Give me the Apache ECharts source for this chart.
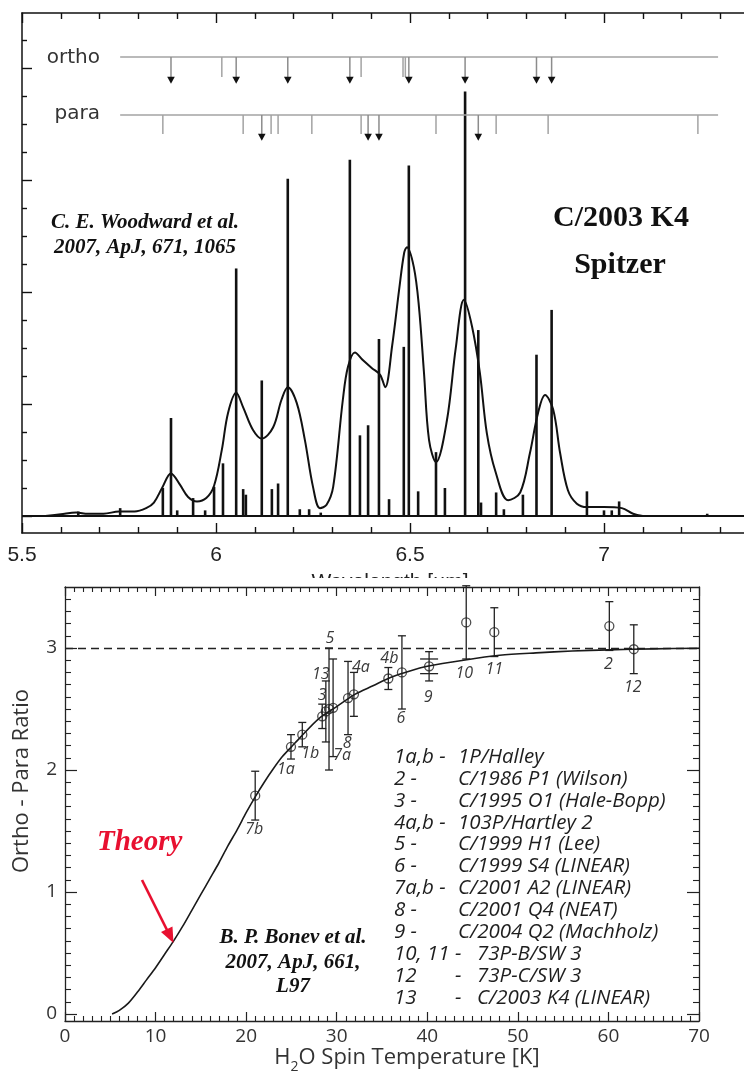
<!DOCTYPE html>
<html><head><meta charset="utf-8">
<script src="https://cdn.jsdelivr.net/npm/echarts@6/dist/echarts.min.js"></script>
<style>html,body{margin:0;padding:0;background:#fff}#c{width:744px;height:1079px}</style>
</head><body><div id="c"></div>
<script>
// ================= TOP PANEL: Spitzer spectrum of C/2003 K4 =================
const spikeWavelengths = [5.645, 5.753, 5.863, 5.884, 5.900, 5.941, 5.972, 5.995, 6.018, 6.052,
  6.070, 6.077, 6.118, 6.144, 6.160, 6.185, 6.216, 6.240, 6.270, 6.345,
  6.371, 6.392, 6.420, 6.446, 6.484, 6.497, 6.521, 6.567, 6.590, 6.642,
  6.676, 6.683, 6.722, 6.742, 6.791, 6.826, 6.865, 6.956, 7.000, 7.020, 7.039, 7.266];
const spikeHeights = [0.04, 0.07, 0.25, 0.875, 0.05, 0.16, 0.05, 0.26, 0.47, 2.21,
  0.24, 0.19, 1.21, 0.24, 0.29, 3.01, 0.06, 0.06, 0.03, 3.18,
  0.72, 0.81, 1.58, 0.15, 1.51, 3.13, 0.22, 0.57, 0.25, 3.79,
  1.66, 0.12, 0.21, 0.06, 0.19, 1.44, 1.84, 0.22, 0.05, 0.05, 0.13, 0.02];

const convolvedWl = [5.56, 5.60, 5.64, 5.67, 5.71, 5.75, 5.79, 5.82, 5.84, 5.861,
  5.884, 5.907, 5.928, 5.951, 5.975, 5.995, 6.015, 6.031, 6.052, 6.070,
  6.095, 6.118, 6.147, 6.169, 6.185, 6.208, 6.229, 6.250, 6.268, 6.285,
  6.302, 6.327, 6.340, 6.358, 6.379, 6.402, 6.423, 6.436, 6.454, 6.472,
  6.485, 6.492, 6.510, 6.523, 6.536, 6.549, 6.567, 6.595, 6.618, 6.639,
  6.660, 6.680, 6.698, 6.720, 6.753, 6.784, 6.809, 6.830, 6.848, 6.869,
  6.887, 6.907, 6.930, 6.956, 7.000, 7.046, 7.075, 7.10];
const convolvedFlux = [0.00, 0.015, 0.03, 0.02, 0.02, 0.04, 0.04, 0.07, 0.12, 0.25,
  0.38, 0.28, 0.17, 0.13, 0.16, 0.27, 0.59, 0.92, 1.10, 0.97,
  0.77, 0.69, 0.79, 1.04, 1.15, 1.01, 0.68, 0.26, 0.07, 0.10,
  0.26, 1.04, 1.33, 1.46, 1.39, 1.32, 1.26, 1.15, 1.52, 2.02,
  2.35, 2.40, 2.22, 1.87, 1.28, 0.68, 0.48, 0.85, 1.50, 1.93,
  1.69, 1.28, 0.74, 0.40, 0.14, 0.21, 0.56, 0.92, 1.08, 0.95,
  0.56, 0.23, 0.11, 0.08, 0.08, 0.07, 0.02, 0.00];

const orthoWl    = [5.884, 6.015, 6.052, 6.185, 6.345, 6.374, 6.482, 6.488, 6.497, 6.642, 6.826, 6.865];
const orthoArrow = [1,     0,     1,     1,     1,     0,     0,     0,     1,     1,     1,     1];
const paraWl     = [5.863, 6.070, 6.118, 6.142, 6.160, 6.247, 6.374, 6.392, 6.420, 6.567, 6.676, 6.722, 6.856, 7.242];
const paraArrow  = [0,     0,     1,     0,     0,     0,     0,     1,     1,     0,     1,     0,     0,     0];

// ================= BOTTOM PANEL: ortho-para ratio vs spin temperature =================
const cometLabels = ['7b', '1a', '1b', '3', '13', '5', '7a', '8', '4a', '4b', '6', '9', '10', '11', '2', '12'];
const spinTemp    = [21.0, 24.95, 26.2, 28.4, 28.8, 29.15, 29.6, 31.25, 31.9, 35.7, 37.2, 40.2, 44.3, 47.4, 60.1, 62.8];
const orthoPara   = [1.79, 2.19, 2.29, 2.44, 2.48, 2.50, 2.51, 2.59, 2.62, 2.75, 2.80, 2.85, 3.21, 3.13, 3.18, 2.99];
const oprError    = [0.20, 0.10, 0.10, 0.10, 0.25, 0.50, 0.40, 0.30, 0.18, 0.09, 0.30, 0.12, 0.30, 0.20, 0.20, 0.20];
const oprErrorB   = [0, 0, 0, 0, 0, 0, 0, 0, 0, 0, 0, 0.06, 0, 0, 0, 0];

const theoryT   = [5.2, 6, 7, 8, 9, 10, 11, 12, 13, 14, 15, 16, 17, 18, 19, 20, 21, 22, 23, 24, 25, 26, 28, 30, 32, 34, 36, 38, 40, 44, 48, 52, 56, 60, 65, 70];
const theoryOPR = [0.0, 0.03, 0.09, 0.18, 0.28, 0.38, 0.49, 0.60, 0.72, 0.85, 0.98, 1.11, 1.24, 1.38, 1.51, 1.65, 1.78, 1.90, 2.01, 2.11, 2.19, 2.27, 2.42, 2.52, 2.62, 2.69, 2.76, 2.81, 2.85, 2.90, 2.94, 2.96, 2.975, 2.985, 2.993, 2.998];

const legendKeys  = ['1a,b -', '2 -', '3 -', '4a,b -', '5 -', '6 -', '7a,b -', '8 -', '9 -', '10, 11 -', '12', '13'];
const legendNames = ['1P/Halley', 'C/1986 P1 (Wilson)', 'C/1995 O1 (Hale-Bopp)', '103P/Hartley 2', 'C/1999 H1 (Lee)',
  'C/1999 S4 (LINEAR)', 'C/2001 A2 (LINEAR)', 'C/2001 Q4 (NEAT)', 'C/2004 Q2 (Machholz)', '73P-B/SW 3', '73P-C/SW 3', 'C/2003 K4 (LINEAR)'];

// ---- layout / style (not data) ----
const LABEL_OFFSET = {'7b':[-1,34], '1a':[-5,23], '1b':[8,19], '3':[0,-21], '13':[-5,-37], '5':[1,-71], '7a':[9,48],
  '8':[-1,45], '4a':[7,-27], '4b':[1,-20], '6':[-1,46], '9':[-1,31], '10':[-2,51], '11':[0,37], '2':[-1,38], '12':[-1,38]};
const ORTHO = {level: 4.098, tickEnd: 3.92, tip: 3.86, range: [5.753, 7.294]};
const PARA  = {level: 3.58,  tickEnd: 3.41, tip: 3.35, range: [5.753, 7.294]};
const INK = '#111';

const chart = echarts.init(document.getElementById('c'));

function range(a, b, step, skipInt) {
  const out = [];
  for (let i = Math.round(a / step); i <= Math.round(b / step); i++) {
    const v = +(i * step).toFixed(4);
    if (skipInt && Math.abs(v - Math.round(v)) < 1e-6) continue;
    out.push(v);
  }
  return out;
}

function levelRenderer(cfg) {
  return function (params, api) {
    const w = api.value(0), arrow = api.value(1);
    const top = api.coord([w, cfg.level]);
    const ch = [];
    if (params.dataIndex === 0) {
      const a = api.coord([cfg.range[0], cfg.level]), b = api.coord([cfg.range[1], cfg.level]);
      ch.push({type: 'line', shape: {x1: a[0], y1: a[1], x2: b[0], y2: b[1]}, style: {stroke: '#a3a3a3', lineWidth: 1.5}});
    }
    if (arrow) {
      const tip = api.coord([w, cfg.tip]);
      ch.push({type: 'line', shape: {x1: top[0], y1: top[1], x2: tip[0], y2: tip[1] - 6}, style: {stroke: '#8c8c8c', lineWidth: 1.5}});
      ch.push({type: 'polygon', shape: {points: [[tip[0] - 3.8, tip[1] - 7], [tip[0] + 3.8, tip[1] - 7], [tip[0], tip[1]]]}, style: {fill: INK}});
    } else {
      const end = api.coord([w, cfg.tickEnd]);
      ch.push({type: 'line', shape: {x1: top[0], y1: top[1], x2: end[0], y2: end[1]}, style: {stroke: '#a3a3a3', lineWidth: 1.5}});
    }
    return {type: 'group', children: ch};
  };
}

const axisLineBlack = {show: true, onZero: false, lineStyle: {color: INK, width: 1.5}};
const tickStyle = {color: INK, width: 1.4};

const topXBase = {gridIndex: 0, type: 'value', min: 5.5, max: 7.5, interval: 0.5,
  axisLine: axisLineBlack, axisTick: {show: true, inside: true, length: 10, lineStyle: tickStyle},
  minorTick: {show: true, splitNumber: 5, length: 6, lineStyle: tickStyle},
  splitLine: {show: false}, minorSplitLine: {show: false}};
const botXBase = {gridIndex: 1, type: 'value', min: 0, max: 70, interval: 10, z: 5,
  axisLine: {show: true, onZero: false, lineStyle: {color: '#222', width: 1.3}},
  axisTick: {show: true, inside: true, length: 9, lineStyle: {color: '#222', width: 1.2}},
  minorTick: {show: true, splitNumber: 10, length: 5, lineStyle: {color: '#222', width: 1.1}},
  splitLine: {show: false}, minorSplitLine: {show: false}};
const topYRange = {gridIndex: 0, type: 'value', min: -0.152, max: 4.491, splitLine: {show: false}, axisLabel: {show: false}};
const botYRange = {gridIndex: 1, type: 'value', min: -0.057, max: 3.5, splitLine: {show: false}, z: 5};

const option = {
  animation: false,
  backgroundColor: '#fff',
  grid: [
    {left: 22, top: 13, width: 776, height: 520, outerBoundsMode: 'none', containLabel: false},
    {left: 65, top: 587, width: 634, height: 434, outerBoundsMode: 'none', containLabel: false}
  ],
  xAxis: [
    Object.assign({}, topXBase, {position: 'bottom',
      axisLabel: {show: true, margin: 12, fontFamily: 'Liberation Sans', fontSize: 21, color: '#222'},
      name: 'Wavelength [µm]', nameLocation: 'middle', nameGap: 39,
      nameTextStyle: {fontFamily: 'Liberation Sans', fontSize: 21, color: '#222', padding: [0, 40, 0, 0]}}),
    Object.assign({}, topXBase, {position: 'top', axisLabel: {show: false}}),
    Object.assign({}, botXBase, {position: 'bottom',
      axisLabel: {show: true, margin: 6, fontFamily: 'Open Sans', fontSize: 19, color: '#333'},
      name: '{n|H}{s|2}{n|O Spin Temperature [K]}', nameLocation: 'middle', nameGap: 24,
      nameTextStyle: {padding: [0, 0, 0, 50], rich: {
        n: {fontFamily: 'Open Sans', fontSize: 22, color: '#333', lineHeight: 22, padding: [0, 0, 5, 0], verticalAlign: 'bottom'},
        s: {fontFamily: 'Open Sans', fontSize: 14, color: '#333', lineHeight: 14, verticalAlign: 'bottom'}}}}),
    Object.assign({}, botXBase, {position: 'top', axisLabel: {show: false}})
  ],
  yAxis: [
    Object.assign({}, topYRange, {position: 'left', axisLine: axisLineBlack,
      axisTick: {show: true, inside: true, length: 10, lineStyle: tickStyle, customValues: [0, 1, 2, 3, 4]}}),
    Object.assign({}, topYRange, {position: 'left', axisLine: {show: false, onZero: false},
      axisTick: {show: true, inside: true, length: 5, lineStyle: tickStyle, customValues: range(0, 4.25, 0.25, true)}}),
    Object.assign({}, botYRange, {position: 'left',
      axisLine: {show: true, onZero: false, lineStyle: {color: '#222', width: 1.3}},
      axisTick: {show: true, inside: true, length: 12, lineStyle: {color: '#222', width: 1.2}, customValues: [0, 1, 2, 3]},
      axisLabel: {show: true, margin: 8, fontFamily: 'Open Sans', fontSize: 19, color: '#333', customValues: [0, 1, 2, 3]},
      name: 'Ortho - Para Ratio', nameLocation: 'middle', nameGap: 32,
      nameTextStyle: {fontFamily: 'Open Sans', fontSize: 22, color: '#333', padding: [0, 0, 0, 46]}}),
    Object.assign({}, botYRange, {position: 'left', axisLine: {show: false, onZero: false}, axisLabel: {show: false},
      axisTick: {show: true, inside: true, length: 6, lineStyle: {color: '#222', width: 1.1}, customValues: range(0, 3.4, 0.1, true)}}),
    Object.assign({}, botYRange, {position: 'right', axisLabel: {show: false},
      axisLine: {show: true, onZero: false, lineStyle: {color: '#222', width: 1.3}},
      axisTick: {show: true, inside: true, length: 12, lineStyle: {color: '#222', width: 1.2}, customValues: [0, 1, 2, 3]}}),
    Object.assign({}, botYRange, {position: 'right', axisLine: {show: false, onZero: false}, axisLabel: {show: false},
      axisTick: {show: true, inside: true, length: 6, lineStyle: {color: '#222', width: 1.1}, customValues: range(0, 3.4, 0.1, true)}})
  ],
  series: [
    {type: 'line', name: 'convolved', xAxisIndex: 0, yAxisIndex: 0, smooth: 0.35, showSymbol: false, silent: true,
      data: convolvedWl.map((w, i) => [w, convolvedFlux[i]]), lineStyle: {color: INK, width: 2}, z: 2},
    {type: 'bar', name: 'lines', xAxisIndex: 0, yAxisIndex: 0, barWidth: 2.6, silent: true,
      data: spikeWavelengths.map((w, i) => [w, spikeHeights[i]]), itemStyle: {color: INK}, z: 3,
      markLine: {silent: true, symbol: ['none', 'none'], label: {show: false},
        lineStyle: {color: INK, width: 2, type: 'solid'}, data: [{yAxis: 0}]}},
    {type: 'custom', name: 'ortho', xAxisIndex: 0, yAxisIndex: 0, silent: true,
      data: orthoWl.map((w, i) => [w, orthoArrow[i]]), renderItem: levelRenderer(ORTHO), z: 4},
    {type: 'custom', name: 'para', xAxisIndex: 0, yAxisIndex: 0, silent: true,
      data: paraWl.map((w, i) => [w, paraArrow[i]]), renderItem: levelRenderer(PARA), z: 4},

    {type: 'line', name: 'theory', xAxisIndex: 2, yAxisIndex: 2, smooth: 0.3, showSymbol: false, silent: true, z: 6,
      data: theoryT.map((t, i) => [t, theoryOPR[i]]), lineStyle: {color: '#1a1a1a', width: 1.6},
      markLine: {silent: true, symbol: ['none', 'none'], label: {show: false},
        lineStyle: {color: '#222', width: 1.3, type: [8, 5]}, data: [{yAxis: 3}]}},
    {type: 'custom', name: 'errors', xAxisIndex: 2, yAxisIndex: 2, silent: true, z: 6,
      encode: {x: 0, y: 1},
      data: spinTemp.map((t, i) => [t, orthoPara[i], oprError[i], oprErrorB[i]]),
      renderItem: function (params, api) {
        const T = api.value(0), R = api.value(1), e = api.value(2), e2 = api.value(3);
        const c = api.coord([T, R]), hi = api.coord([T, R + e]), lo = api.coord([T, R - e]);
        const st = {stroke: '#222', lineWidth: 1.3};
        const ch = [
          {type: 'line', shape: {x1: c[0], y1: hi[1], x2: c[0], y2: lo[1]}, style: st},
          {type: 'line', shape: {x1: c[0] - 4, y1: hi[1], x2: c[0] + 4, y2: hi[1]}, style: st},
          {type: 'line', shape: {x1: c[0] - 4, y1: lo[1], x2: c[0] + 4, y2: lo[1]}, style: st}
        ];
        if (e2 > 0) {
          const h2 = api.coord([T, R + e2]), l2 = api.coord([T, R - e2]);
          ch.push({type: 'line', shape: {x1: c[0] - 9, y1: h2[1], x2: c[0] + 9, y2: h2[1]}, style: st});
          ch.push({type: 'line', shape: {x1: c[0] - 9, y1: l2[1], x2: c[0] + 9, y2: l2[1]}, style: st});
        }
        const lab = cometLabels[params.dataIndex];
        const off = LABEL_OFFSET[lab] || [0, 20];
        ch.push({type: 'text', x: c[0] + off[0], y: c[1] + off[1],
          style: {text: lab, fontFamily: 'Open Sans', fontStyle: 'italic', fontSize: 16, fill: '#3a3a3a',
            align: 'center', verticalAlign: 'middle'}});
        return {type: 'group', children: ch};
      }},
    {type: 'scatter', name: 'OPR', xAxisIndex: 2, yAxisIndex: 2, silent: true, z: 7,
      data: spinTemp.map((t, i) => [t, orthoPara[i]]), symbol: 'circle', symbolSize: 9,
      itemStyle: {color: 'rgba(255,255,255,0)', borderColor: '#222', borderWidth: 1.3}}
  ]
};

// ---- text annotations ----
const serifBI = {fontFamily: 'Liberation Serif', fontWeight: 'bold', fontStyle: 'italic', fill: '#111', align: 'center', verticalAlign: 'middle'};
function txt(text, x, y, extra) {
  return {type: 'text', x: x, y: y, silent: true, z: 20, style: Object.assign({text: text}, extra)};
}
const g = [];
// cover for the partially hidden top x-axis name
g.push({type: 'rect', silent: true, z: 3, shape: {x: 240, y: 578, width: 300, height: 24}, style: {fill: '#fff'}});
g.push(txt('C. E. Woodward et al.', 145, 223, Object.assign({fontSize: 21}, serifBI)));
g.push(txt('2007, ApJ, 671, 1065', 145, 248, Object.assign({fontSize: 21}, serifBI)));
g.push(txt('C/2003 K4', 621, 218, {fontFamily: 'Liberation Serif', fontWeight: 'bold', fontSize: 30, fill: '#111', align: 'center', verticalAlign: 'middle'}));
g.push(txt('Spitzer', 620, 265, {fontFamily: 'Liberation Serif', fontWeight: 'bold', fontSize: 30, fill: '#111', align: 'center', verticalAlign: 'middle'}));
g.push(txt('ortho', 100, 58, {fontFamily: 'DejaVu Sans', fontSize: 20, fill: '#333', align: 'right', verticalAlign: 'middle'}));
g.push(txt('para', 100, 114, {fontFamily: 'DejaVu Sans', fontSize: 20, fill: '#333', align: 'right', verticalAlign: 'middle'}));
g.push(txt('Theory', 97, 843, {fontFamily: 'Liberation Serif', fontWeight: 'bold', fontStyle: 'italic', fontSize: 29, fill: '#e81030', align: 'left', verticalAlign: 'middle'}));
g.push({type: 'line', silent: true, z: 20, shape: {x1: 142, y1: 880, x2: 167, y2: 930}, style: {stroke: '#e81030', lineWidth: 2.6}});
g.push({type: 'polygon', silent: true, z: 20, shape: {points: [[161, 932], [172.5, 926.5], [173.5, 943]]}, style: {fill: '#e81030'}});
g.push(txt('B. P. Bonev et al.', 293, 938, Object.assign({fontSize: 21}, serifBI)));
g.push(txt('2007, ApJ, 661,', 293, 963, Object.assign({fontSize: 21}, serifBI)));
g.push(txt('L97', 293, 987, Object.assign({fontSize: 21}, serifBI)));
const legFont = {fontFamily: 'Open Sans', fontStyle: 'italic', fontSize: 20.5, fill: '#1e1e1e', align: 'left', verticalAlign: 'middle'};
legendKeys.forEach((k, i) => {
  const y = 757 + i * 21.9;
  g.push(txt(k, 394, y, legFont));
  if (i < 9) {
    g.push(txt(legendNames[i], 458, y, legFont));
  } else {
    if (i > 9) g.push(txt('-', 455, y, legFont));
    g.push(txt(legendNames[i], 477, y, legFont));
  }
});
option.graphic = {elements: g};

chart.setOption(option);
</script>
</body></html>
